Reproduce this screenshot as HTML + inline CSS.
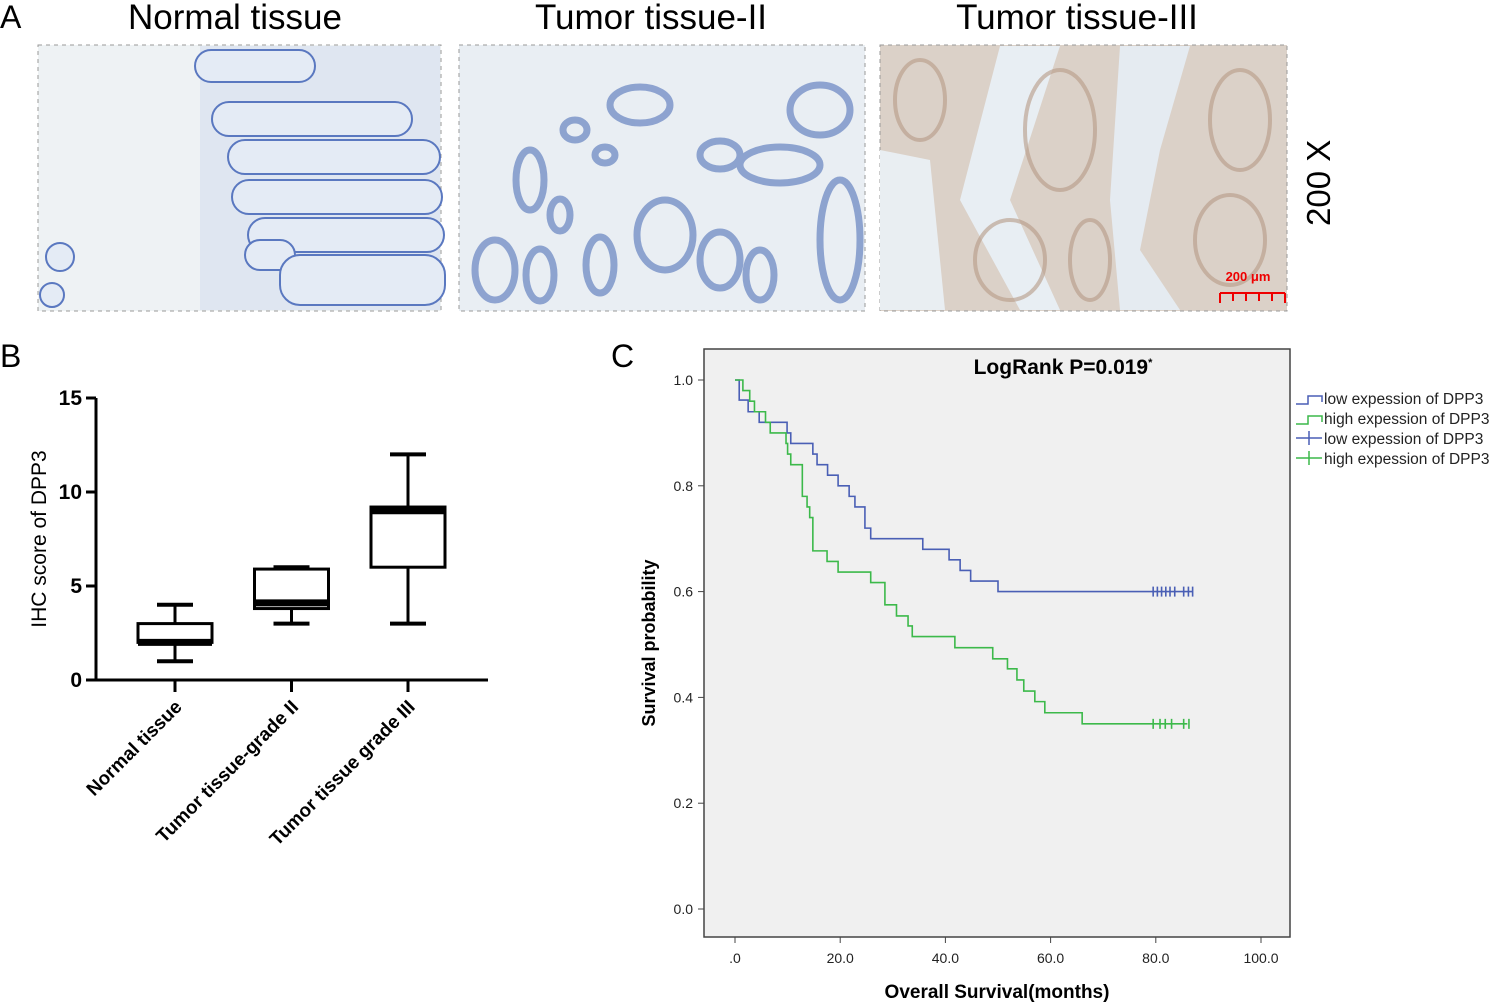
<!DOCTYPE html>
<html><head><meta charset="utf-8">
<style>
html,body{margin:0;padding:0;background:#fff;}
svg{display:block;font-family:"Liberation Sans",Arial,sans-serif;}
</style></head>
<body>
<svg id="fig" width="1492" height="1005" viewBox="0 0 1492 1005" xmlns="http://www.w3.org/2000/svg">
<!-- Panel A -->
<g>
<text x="0" y="28" font-size="32">A</text>
<text x="235" y="29" font-size="35" text-anchor="middle">Normal tissue</text>
<text x="651" y="29" font-size="35" text-anchor="middle">Tumor tissue-II</text>
<text x="1077" y="29" font-size="35" text-anchor="middle">Tumor tissue-III</text>
<text x="0" y="0" font-size="33" transform="translate(1330,226) rotate(-90)">200 X</text>

<g>
<rect x="38" y="45" width="403" height="266" fill="#eef2f4" stroke="#999" stroke-dasharray="4,4"/>
<rect x="200" y="46" width="240" height="264" fill="#dfe6f1"/>
<g fill="#e4ebf5" stroke="#5a78c0" stroke-width="2">
<rect x="195" y="50" width="120" height="32" rx="16"/>
<rect x="212" y="102" width="200" height="34" rx="17"/>
<rect x="228" y="140" width="212" height="34" rx="17"/>
<rect x="232" y="180" width="210" height="34" rx="17"/>
<rect x="248" y="218" width="196" height="34" rx="17"/>
<rect x="245" y="240" width="50" height="30" rx="15"/>
<rect x="280" y="255" width="165" height="50" rx="20"/>
<circle cx="60" cy="257" r="14"/>
<circle cx="52" cy="295" r="12"/>
</g>
</g>
<g>
<rect x="459" y="45" width="406" height="266" fill="#e9eef3" stroke="#999" stroke-dasharray="4,4"/>
<g fill="none" stroke="#6f8ac4" stroke-width="7" opacity="0.75">
<ellipse cx="640" cy="105" rx="30" ry="18"/>
<ellipse cx="575" cy="130" rx="12" ry="10"/>
<ellipse cx="530" cy="180" rx="14" ry="30"/>
<ellipse cx="560" cy="215" rx="10" ry="16"/>
<ellipse cx="495" cy="270" rx="20" ry="30"/>
<ellipse cx="540" cy="275" rx="14" ry="26"/>
<ellipse cx="600" cy="265" rx="14" ry="28"/>
<ellipse cx="665" cy="235" rx="28" ry="35"/>
<ellipse cx="720" cy="260" rx="20" ry="28"/>
<ellipse cx="760" cy="275" rx="14" ry="25"/>
<ellipse cx="780" cy="165" rx="40" ry="18"/>
<ellipse cx="820" cy="110" rx="30" ry="25"/>
<ellipse cx="840" cy="240" rx="20" ry="60"/>
<ellipse cx="720" cy="155" rx="20" ry="14"/>
<ellipse cx="605" cy="155" rx="10" ry="8"/>
</g>
</g>
<g>
<rect x="880" y="45" width="407" height="266" fill="#dbd1c8" stroke="#999" stroke-dasharray="4,4"/>
<path d="M1000,46 L1060,46 L1010,200 L1060,310 L1020,310 L960,200 Z" fill="#e8eef3"/>
<path d="M1120,46 L1190,46 L1160,150 L1140,250 L1180,310 L1120,310 L1110,200 Z" fill="#e5ebf1"/>
<path d="M880,150 L930,160 L945,310 L880,310 Z" fill="#e9eef2"/>
<g fill="none" stroke="#b69a86" stroke-width="4" opacity="0.6">
<ellipse cx="920" cy="100" rx="25" ry="40"/>
<ellipse cx="1060" cy="130" rx="35" ry="60"/>
<ellipse cx="1010" cy="260" rx="35" ry="40"/>
<ellipse cx="1240" cy="120" rx="30" ry="50"/>
<ellipse cx="1230" cy="240" rx="35" ry="45"/>
<ellipse cx="1090" cy="260" rx="20" ry="40"/>
</g>
<text x="1248" y="281" font-size="13" fill="#e00" text-anchor="middle" font-weight="bold">200 μm</text>
<path d="M1220,293 H1285 M1220,293 v10 M1233,293 v8 M1246,293 v8 M1259,293 v8 M1272,293 v8 M1285,293 v10" stroke="#e00" stroke-width="2" fill="none"/>
</g>
</g>

<!-- Panel B -->
<g id="panelB">
<text x="0" y="367" font-size="32">B</text>
<text transform="translate(46,539) rotate(-90)" font-size="21" text-anchor="middle">IHC score of DPP3</text>
</g>

<!-- Panel C -->
<g id="panelC">
<text x="611" y="367" font-size="32">C</text>
<rect x="704" y="349" width="586" height="588" fill="#f0f0f0" stroke="#444" stroke-width="1.5"/>
<text x="1063" y="374" font-size="21" font-weight="bold" text-anchor="middle">LogRank P=0.019<tspan font-size="11" dy="-8">*</tspan></text>
<text transform="translate(655,643) rotate(-90)" font-size="18" font-weight="bold" text-anchor="middle">Survival probability</text>
<text x="997" y="998" font-size="19" font-weight="bold" text-anchor="middle">Overall Survival(months)</text>
<g font-size="15.5" fill="#222">
<g><path d="M1296,404 h12 v-8 h14 v6" stroke="#4a5fb5" fill="none" stroke-width="1.5"/><text x="1324" y="404">low expession of DPP3</text></g>
<g><path d="M1296,424 h12 v-8 h14 v6" stroke="#3cb94a" fill="none" stroke-width="1.5"/><text x="1324" y="424">high expession of DPP3</text></g>
<g><path d="M1296,438 h26 M1309,431 v14" stroke="#4a5fb5" fill="none" stroke-width="1.5"/><text x="1324" y="444">low expession of DPP3</text></g>
<g><path d="M1296,458 h26 M1309,451 v14" stroke="#3cb94a" fill="none" stroke-width="1.5"/><text x="1324" y="464">high expession of DPP3</text></g>
</g>
</g>
</svg>
<script>
// ---------- Panel B data ----------
const bCategories = ["Normal tissue", "Tumor tissue-grade II", "Tumor  tissue grade III"];
const bMin = [1, 3, 3];
const bQ1 = [2, 3.8, 6];
const bMedian = [2, 4.1, 9];
const bQ3 = [3, 5.9, 9.2];
const bMax = [4, 6, 12];
const bTicks = [0, 5, 10, 15];

// ---------- Panel C data ----------
const lowTimes = [0, 0.8, 2.5, 4.6, 9.9, 10.6, 14.8, 15.6, 17.6, 19.6, 21.7, 22.8, 24.7, 25.8, 35.7, 40.7, 42.8, 44.8, 50, 87];
const lowSurv  = [1, 0.962, 0.94, 0.92, 0.90, 0.88, 0.86, 0.84, 0.82, 0.80, 0.78, 0.76, 0.72, 0.70, 0.68, 0.66, 0.64, 0.62, 0.60, 0.60];
const highTimes = [0, 1.5, 2.8, 3.7, 5.8, 6.7, 9.7, 10.0, 10.6, 12.8, 13.7, 14.2, 14.8, 17.5, 19.6, 25.8, 28.5, 30.7, 32.9, 33.7, 41.8, 49, 51.8, 53.6, 54.9, 57, 58.9, 66, 86];
const highSurv  = [1, 0.98, 0.96, 0.94, 0.92, 0.90, 0.88, 0.86, 0.84, 0.78, 0.76, 0.74, 0.677, 0.657, 0.637, 0.617, 0.575, 0.554, 0.535, 0.515, 0.494, 0.473, 0.454, 0.433, 0.412, 0.392, 0.371, 0.35, 0.35];
const lowCensor = [79.5, 80.3, 81.1, 81.9, 82.7, 83.6, 85.3, 86.2, 87];
const highCensor = [79.5, 80.8, 81.8, 83.0, 85.3, 86.3];
const cXTicks = [0, 20, 40, 60, 80, 100];
const cXTickLabels = [".0", "20.0", "40.0", "60.0", "80.0", "100.0"];
const cYTicks = [0, 0.2, 0.4, 0.6, 0.8, 1.0];
const cYTickLabels = ["0.0", "0.2", "0.4", "0.6", "0.8", "1.0"];

const NS = "http://www.w3.org/2000/svg";
function mk(tag, attrs, parent) {
  const e = document.createElementNS(NS, tag);
  for (const k in attrs) e.setAttribute(k, attrs[k]);
  parent.appendChild(e);
  return e;
}

// ---------- Panel B drawing ----------
const gB = document.getElementById("panelB");
const byScale = v => 680 - v * 18.8;
const bxScale = i => 175 + i * 116.5;
let ax = mk("path", {d: "M96,398 V680 H488", stroke: "#000", "stroke-width": 3, fill: "none"}, gB);


bTicks.forEach(t => {
  const y = byScale(t);
  const tk = mk("line", {x1: 86, x2: 96, y1: y, y2: y, stroke: "#000", "stroke-width": 3}, gB);
  
  
  const lb = mk("text", {x: 82, y: y + 7, "font-size": 21, "font-weight": "bold", "text-anchor": "end"}, gB);
  lb.textContent = t;
  
  
});
bCategories.forEach((c, i) => {
  const x = bxScale(i);
  const tk = mk("line", {x1: x, x2: x, y1: 680, y2: 692, stroke: "#000", "stroke-width": 3}, gB);
  
  
  const lb = mk("text", {transform: `translate(${x + 8},${708}) rotate(-45)`, "font-size": 19, "font-weight": "bold", "text-anchor": "end"}, gB);
  lb.textContent = c;
  
  
  const g = mk("g", {}, gB);
  
  
  const hw = 37;
  mk("line", {x1: x, x2: x, y1: byScale(bMax[i]), y2: byScale(bQ3[i]), stroke: "#000", "stroke-width": 3}, g);
  mk("line", {x1: x, x2: x, y1: byScale(bQ1[i]), y2: byScale(bMin[i]), stroke: "#000", "stroke-width": 3}, g);
  mk("line", {x1: x - 18, x2: x + 18, y1: byScale(bMax[i]), y2: byScale(bMax[i]), stroke: "#000", "stroke-width": 4}, g);
  mk("line", {x1: x - 18, x2: x + 18, y1: byScale(bMin[i]), y2: byScale(bMin[i]), stroke: "#000", "stroke-width": 4}, g);
  mk("rect", {x: x - hw, y: byScale(bQ3[i]), width: 2 * hw, height: byScale(bQ1[i]) - byScale(bQ3[i]), fill: "#fff", stroke: "#000", "stroke-width": 3}, g);
  mk("line", {x1: x - hw, x2: x + hw, y1: byScale(bMedian[i]), y2: byScale(bMedian[i]), stroke: "#000", "stroke-width": 7}, g);
});

// ---------- Panel C drawing ----------
const gC = document.getElementById("panelC");
const cx = t => 735 + t * 5.26;
const cy = s => 909 - s * 529;
cXTicks.forEach((t, i) => {
  const x = cx(t);
  const tk = mk("line", {x1: x, x2: x, y1: 937, y2: 943, stroke: "#444"}, gC);
  
  
  const lb = mk("text", {x: x, y: 963, "font-size": 14, "text-anchor": "middle", fill: "#222"}, gC);
  lb.textContent = cXTickLabels[i];
  
  
});
cYTicks.forEach((s, i) => {
  const y = cy(s);
  const tk = mk("line", {x1: 698, x2: 704, y1: y, y2: y, stroke: "#444"}, gC);
  
  
  const lb = mk("text", {x: 693, y: y + 5, "font-size": 14, "text-anchor": "end", fill: "#222"}, gC);
  lb.textContent = cYTickLabels[i];
  
  
});
function stepPath(ts, ss) {
  let d = `M${cx(ts[0])},${cy(ss[0])}`;
  for (let i = 1; i < ts.length; i++) {
    d += ` H${cx(ts[i])} V${cy(ss[i])}`;
  }
  return d;
}
const lowLine = mk("path", {d: stepPath(lowTimes, lowSurv), stroke: "#4a5fb5", "stroke-width": 1.6, fill: "none"}, gC);


const highLine = mk("path", {d: stepPath(highTimes, highSurv), stroke: "#3cb94a", "stroke-width": 1.6, fill: "none"}, gC);


lowCensor.forEach(t => {
  const m = mk("line", {x1: cx(t), x2: cx(t), y1: cy(0.60) - 5, y2: cy(0.60) + 5, stroke: "#4a5fb5", "stroke-width": 1.6}, gC);
  
  
});
highCensor.forEach(t => {
  const m = mk("line", {x1: cx(t), x2: cx(t), y1: cy(0.35) - 5, y2: cy(0.35) + 5, stroke: "#3cb94a", "stroke-width": 1.6}, gC);
  
  
});
</script>
</body></html>
